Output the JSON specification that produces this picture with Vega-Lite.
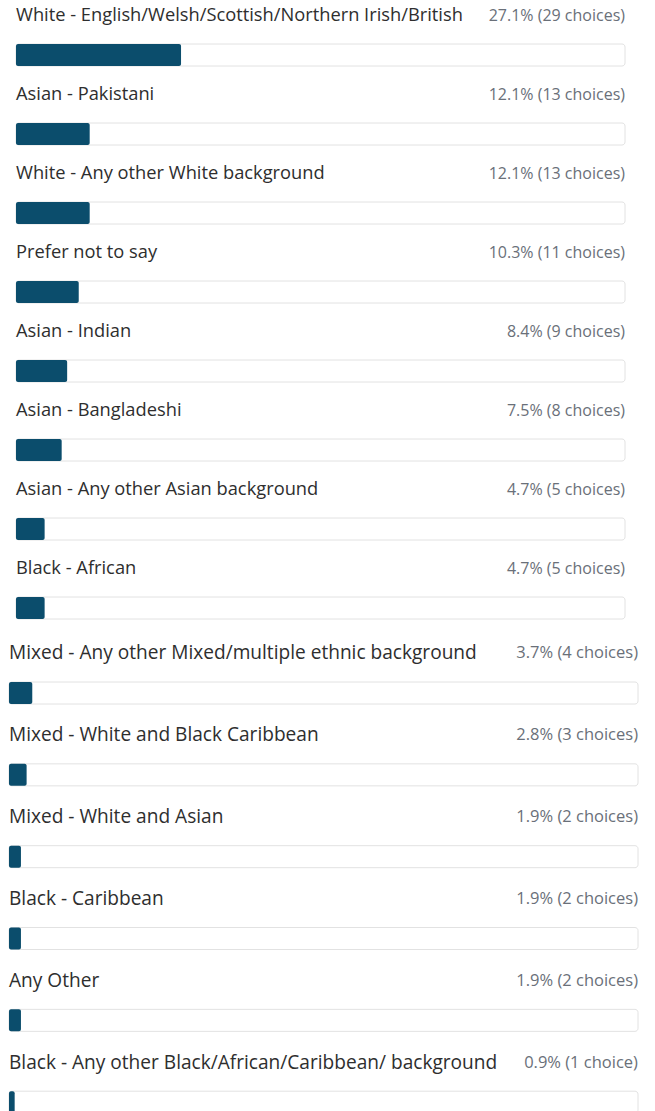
{
  "$schema": "https://vega.github.io/schema/vega-lite/v6.json",
  "padding": 0,
  "background": "white",
  "spacing": 0,
  "config": {"view": {"stroke": null}},
  "data": {"values": [
    {"section": 1, "order": 1, "label": "White - English/Welsh/Scottish/Northern Irish/British", "pct": 27.1, "total": 100, "detail": "27.1% (29 choices)"},
    {"section": 1, "order": 2, "label": "Asian - Pakistani", "pct": 12.1, "total": 100, "detail": "12.1% (13 choices)"},
    {"section": 1, "order": 3, "label": "White - Any other White background", "pct": 12.1, "total": 100, "detail": "12.1% (13 choices)"},
    {"section": 1, "order": 4, "label": "Prefer not to say", "pct": 10.3, "total": 100, "detail": "10.3% (11 choices)"},
    {"section": 1, "order": 5, "label": "Asian - Indian", "pct": 8.4, "total": 100, "detail": "8.4% (9 choices)"},
    {"section": 1, "order": 6, "label": "Asian - Bangladeshi", "pct": 7.5, "total": 100, "detail": "7.5% (8 choices)"},
    {"section": 1, "order": 7, "label": "Asian - Any other Asian background", "pct": 4.7, "total": 100, "detail": "4.7% (5 choices)"},
    {"section": 1, "order": 8, "label": "Black - African", "pct": 4.7, "total": 100, "detail": "4.7% (5 choices)"},
    {"section": 2, "order": 9, "label": "Mixed - Any other Mixed/multiple ethnic background", "pct": 3.7, "total": 100, "detail": "3.7% (4 choices)"},
    {"section": 2, "order": 10, "label": "Mixed - White and Black Caribbean", "pct": 2.8, "total": 100, "detail": "2.8% (3 choices)"},
    {"section": 2, "order": 11, "label": "Mixed - White and Asian", "pct": 1.9, "total": 100, "detail": "1.9% (2 choices)"},
    {"section": 2, "order": 12, "label": "Black - Caribbean", "pct": 1.9, "total": 100, "detail": "1.9% (2 choices)"},
    {"section": 2, "order": 13, "label": "Any Other", "pct": 1.9, "total": 100, "detail": "1.9% (2 choices)"},
    {"section": 2, "order": 14, "label": "Black - Any other Black/African/Caribbean/ background", "pct": 0.9, "total": 100, "detail": "0.9% (1 choice)"}
  ]},
  "vconcat": [
    {
      "width": 616,
      "height": 632,
      "transform": [{"filter": "datum.section == 1"}],
      "encoding": {
        "y": {"field": "label", "type": "nominal", "sort": {"field": "order", "op": "min"},
              "scale": {"paddingInner": 0, "paddingOuter": 0},
              "axis": {"labels": false, "ticks": false, "domain": false, "grid": false, "title": null, "minExtent": 9, "maxExtent": 9}}
      },
      "layer": [
        {"mark": {"type": "bar", "height": 22, "yOffset": 15.5, "fill": "white", "stroke": "#e2e2e2", "strokeWidth": 1, "cornerRadius": 3},
         "encoding": {"x": {"field": "total", "type": "quantitative", "stack": null, "scale": {"domain": [0, 100], "range": [7, 616]}, "axis": null}}},
        {"mark": {"type": "bar", "height": 22, "yOffset": 15.5, "fill": "#0b4d6c", "cornerRadius": 2},
         "encoding": {"x": {"field": "pct", "type": "quantitative", "stack": null}}},
        {"mark": {"type": "text", "align": "left", "baseline": "middle", "yOffset": -24, "font": "Open Sans", "fontSize": 18.3, "color": "#2e2e2e"},
         "encoding": {"x": {"datum": 0, "type": "quantitative"}, "text": {"field": "label"}}},
        {"mark": {"type": "text", "align": "right", "baseline": "middle", "yOffset": -24, "font": "Open Sans", "fontSize": 16, "color": "#6a7079"},
         "encoding": {"x": {"field": "total", "type": "quantitative"}, "text": {"field": "detail"}}}
      ]
    },
    {
      "width": 629,
      "height": 491,
      "transform": [{"filter": "datum.section == 2"}],
      "encoding": {
        "y": {"field": "label", "type": "nominal", "sort": {"field": "order", "op": "min"},
              "scale": {"paddingInner": 0, "paddingOuter": 0},
              "axis": {"labels": false, "ticks": false, "domain": false, "grid": false, "title": null, "minExtent": 9, "maxExtent": 9}}
      },
      "layer": [
        {"mark": {"type": "bar", "height": 22, "yOffset": 20.1, "fill": "white", "stroke": "#e2e2e2", "strokeWidth": 1, "cornerRadius": 3},
         "encoding": {"x": {"field": "total", "type": "quantitative", "stack": null, "scale": {"domain": [0, 100]}, "axis": null}}},
        {"mark": {"type": "bar", "height": 22, "yOffset": 20.1, "fill": "#0b4d6c", "cornerRadius": 2},
         "encoding": {"x": {"field": "pct", "type": "quantitative", "stack": null}}},
        {"mark": {"type": "text", "align": "left", "baseline": "middle", "yOffset": -19.5, "font": "Open Sans", "fontSize": 19.1, "color": "#2e2e2e"},
         "encoding": {"x": {"datum": 0, "type": "quantitative"}, "text": {"field": "label"}}},
        {"mark": {"type": "text", "align": "right", "baseline": "middle", "yOffset": -19.5, "font": "Open Sans", "fontSize": 16.5, "color": "#6a7079"},
         "encoding": {"x": {"field": "total", "type": "quantitative"}, "text": {"field": "detail"}}}
      ]
    }
  ]
}
